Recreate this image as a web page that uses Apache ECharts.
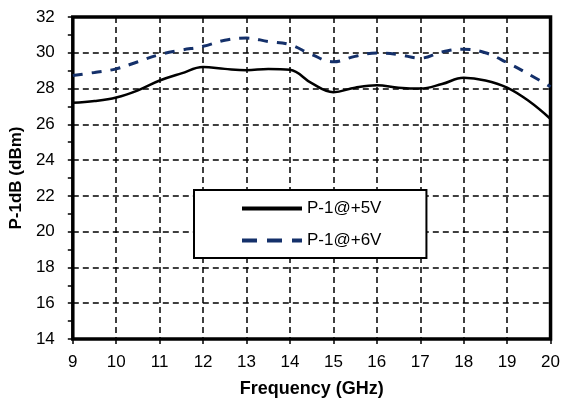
<!DOCTYPE html>
<html><head><meta charset="utf-8">
<script src="https://cdn.jsdelivr.net/npm/echarts@6/dist/echarts.min.js"></script>
<style>html,body{margin:0;padding:0;background:#fff}#c{width:563px;height:403px}</style>
</head><body><div id="c"></div>
<script>
var freq5 = [9, 9.5, 10, 10.5, 11, 11.5, 12, 12.5, 13, 13.5, 14, 14.5, 15, 15.5, 16, 16.5, 17, 17.5, 18, 18.5, 19, 19.5, 20];
var p5V   = [27.2, 27.3, 27.5, 27.9, 28.45, 28.85, 29.2, 29.1, 29.03, 29.1, 29.05, 28.3, 27.8, 28.05, 28.18, 28.05, 28.0, 28.25, 28.6, 28.45, 28.05, 27.3, 26.3];
var freq6 = [9, 9.5, 10, 10.5, 11, 11.5, 12, 12.5, 13, 13.5, 14, 14.5, 15, 15.5, 16, 16.5, 17, 17.5, 18, 18.5, 19, 19.5, 20];
var p6V   = [28.73, 28.9, 29.1, 29.5, 29.9, 30.15, 30.36, 30.7, 30.82, 30.63, 30.45, 29.9, 29.5, 29.8, 29.99, 29.9, 29.7, 30.05, 30.2, 30.0, 29.45, 28.8, 28.1];
var seriesNames = ['P-1@+5V', 'P-1@+6V'];
var xTitle = 'Frequency (GHz)';
var yTitle = 'P-1dB (dBm)';

function pairs(xs, ys){ return xs.map(function(x,i){return [x, ys[i]];}); }

var chart = echarts.init(document.getElementById('c'));
var font = 'Liberation Sans, Arial, sans-serif';
chart.setOption({
  animation: false,
  backgroundColor: '#fff',
  grid: {left: 71, right: 12, top: 17, bottom: 61, show: true, borderColor: '#000', borderWidth: 3.5, backgroundColor: 'transparent'},
  xAxis: {
    type: 'value', min: 9, max: 20, interval: 1,
    name: xTitle, nameLocation: 'middle', nameGap: 41,
    nameTextStyle: {fontFamily: font, fontSize: 18, fontWeight: 'bold', color: '#000'},
    axisLine: {show: false},
    axisTick: {show: true, inside: false, length: 5, lineStyle: {color: '#000', width: 1.5}},
    axisLabel: {fontFamily: font, fontSize: 17, color: '#000', margin: 15},
    splitLine: {show: true, lineStyle: {color: '#000', width: 1.5, type: [6, 4]}}
  },
  yAxis: {
    type: 'value', min: 14, max: 32, interval: 2,
    name: yTitle, nameLocation: 'middle', nameGap: 45,
    nameTextStyle: {fontFamily: font, fontSize: 17, fontWeight: 'bold', color: '#000'},
    axisLine: {show: false},
    axisTick: {show: true, inside: false, length: 5, lineStyle: {color: '#000', width: 1.5}},
    minorTick: {show: true, splitNumber: 2, length: 5, lineStyle: {color: '#000', width: 1.5}},
    axisLabel: {fontFamily: font, fontSize: 17, color: '#000', margin: 18},
    splitLine: {show: true, lineStyle: {color: '#000', width: 1.5, type: [6, 4]}}
  },
  legend: {
    orient: 'vertical', left: 194, top: 190,
    padding: [10, 45, 9, 46], itemGap: 15, itemWidth: 60, itemHeight: 14,
    backgroundColor: '#fff', borderColor: '#000', borderWidth: 2,
    itemStyle: {opacity: 0},
    textStyle: {fontFamily: font, fontSize: 17, color: '#000'},
    data: [
      {name: seriesNames[0], lineStyle: {width: 4, color: '#000', type: 'solid'}},
      {name: seriesNames[1], lineStyle: {width: 4, color: '#14306a', type: [15, 10]}}
    ]
  },
  series: [
    {name: seriesNames[0], type: 'line', data: pairs(freq5, p5V), smooth: 0.4, symbol: 'none',
     lineStyle: {color: '#000', width: 2.5}, itemStyle: {color: '#000'}, z: 3},
    {name: seriesNames[1], type: 'line', data: pairs(freq6, p6V), smooth: 0.4, symbol: 'none',
     lineStyle: {color: '#14306a', width: 3, type: [10, 9]}, itemStyle: {color: '#14306a'}, z: 3}
  ]
});
</script></body></html>
